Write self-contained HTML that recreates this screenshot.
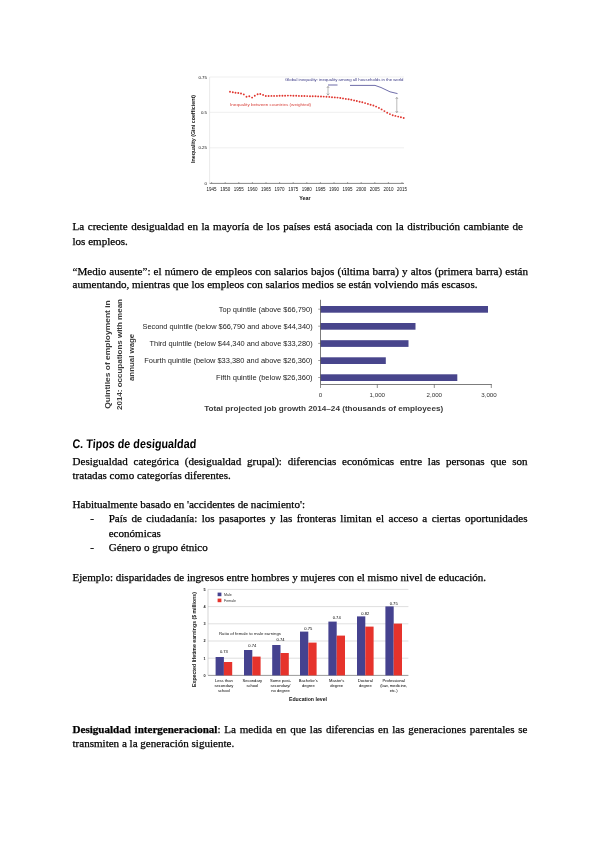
<!DOCTYPE html>
<html lang="es"><head><meta charset="utf-8"><title>Tipos de desigualdad</title>
<style>
html,body{margin:0;padding:0;background:#fff;}
body{width:600px;height:848px;position:relative;overflow:hidden;font-family:"Liberation Serif",serif;color:#000;}
.l{position:absolute;left:72.5px;width:455px;font-size:11.05px;line-height:14px;height:14px;white-space:nowrap;text-align:justify;text-align-last:justify;-webkit-text-stroke:0.25px #000;}
.l.n{text-align:left;text-align-last:left;}
.l.i{left:108.7px;width:418.8px;}
.d{-webkit-text-stroke:0.25px #000;position:absolute;left:90.3px;font-size:11.05px;line-height:14px;}
.h{position:absolute;left:72px;top:435.5px;font-family:"Liberation Sans",sans-serif;font-weight:bold;font-size:12.5px;line-height:16px;white-space:nowrap;transform:scaleX(0.862) skewX(-4deg);transform-origin:0 100%;}
svg{position:absolute;left:0;top:0;}
svg text{font-family:"Liberation Sans",sans-serif;}
</style></head><body>
<div class="l" style="top:219.27px;width:450.5px">La creciente desigualdad en la mayoría de los países está asociada con la distribución cambiante de</div>
<div class="l n" style="top:233.57px">los empleos.</div>
<div class="l" style="top:263.77px;width:455.5px">“Medio ausente”: el número de empleos con salarios bajos (última barra) y altos (primera barra) están</div>
<div class="l n" style="top:277.27px">aumentando, mientras que los empleos con salarios medios se están volviendo más escasos.</div>
<div class="h">C. Tipos de desigualdad</div>
<div class="l" style="top:454.27px">Desigualdad categórica (desigualdad grupal): diferencias económicas entre las personas que son</div>
<div class="l n" style="top:468.07px">tratadas como categorías diferentes.</div>
<div class="l n" style="top:496.77px">Habitualmente basado en 'accidentes de nacimiento':</div>
<div class="d" style="top:511.27px">-</div>
<div class="l i" style="top:511.27px">País de ciudadanía: los pasaportes y las fronteras limitan el acceso a ciertas oportunidades</div>
<div class="l i n" style="top:525.57px">económicas</div>
<div class="d" style="top:540.47px">-</div>
<div class="l i n" style="top:540.47px">Género o grupo étnico</div>
<div class="l n" style="top:570.27px">Ejemplo: disparidades de ingresos entre hombres y mujeres con el mismo nivel de educación.</div>
<div class="l" style="top:721.77px"><b>Desigualdad intergeneracional</b>: La medida en que las diferencias en las generaciones parentales se</div>
<div class="l n" style="top:736.27px">transmiten a la generación siguiente.</div>
<svg width="600" height="848" viewBox="0 0 600 848">
<line x1="209.6" x2="404" y1="77" y2="77" stroke="#e4e4e4" stroke-width="0.6"/>
<line x1="209.6" x2="404" y1="112.3" y2="112.3" stroke="#e4e4e4" stroke-width="0.6"/>
<line x1="209.6" x2="404" y1="147.8" y2="147.8" stroke="#e4e4e4" stroke-width="0.6"/>
<line x1="209.6" x2="209.6" y1="77" y2="183.4" stroke="#dcdcdc" stroke-width="0.6"/>
<line x1="209.6" x2="404" y1="183.4" y2="183.4" stroke="#555" stroke-width="0.7"/>
<line x1="211.6" x2="211.6" y1="182" y2="183.4" stroke="#555" stroke-width="0.5"/>
<text x="211.6" y="191" font-size="4.5" text-anchor="middle" fill="#111">1945</text>
<line x1="225.2" x2="225.2" y1="182" y2="183.4" stroke="#555" stroke-width="0.5"/>
<text x="225.2" y="191" font-size="4.5" text-anchor="middle" fill="#111">1950</text>
<line x1="238.8" x2="238.8" y1="182" y2="183.4" stroke="#555" stroke-width="0.5"/>
<text x="238.8" y="191" font-size="4.5" text-anchor="middle" fill="#111">1955</text>
<line x1="252.4" x2="252.4" y1="182" y2="183.4" stroke="#555" stroke-width="0.5"/>
<text x="252.4" y="191" font-size="4.5" text-anchor="middle" fill="#111">1960</text>
<line x1="266.0" x2="266.0" y1="182" y2="183.4" stroke="#555" stroke-width="0.5"/>
<text x="266.0" y="191" font-size="4.5" text-anchor="middle" fill="#111">1965</text>
<line x1="279.6" x2="279.6" y1="182" y2="183.4" stroke="#555" stroke-width="0.5"/>
<text x="279.6" y="191" font-size="4.5" text-anchor="middle" fill="#111">1970</text>
<line x1="293.2" x2="293.2" y1="182" y2="183.4" stroke="#555" stroke-width="0.5"/>
<text x="293.2" y="191" font-size="4.5" text-anchor="middle" fill="#111">1975</text>
<line x1="306.8" x2="306.8" y1="182" y2="183.4" stroke="#555" stroke-width="0.5"/>
<text x="306.8" y="191" font-size="4.5" text-anchor="middle" fill="#111">1980</text>
<line x1="320.4" x2="320.4" y1="182" y2="183.4" stroke="#555" stroke-width="0.5"/>
<text x="320.4" y="191" font-size="4.5" text-anchor="middle" fill="#111">1985</text>
<line x1="334.0" x2="334.0" y1="182" y2="183.4" stroke="#555" stroke-width="0.5"/>
<text x="334.0" y="191" font-size="4.5" text-anchor="middle" fill="#111">1990</text>
<line x1="347.6" x2="347.6" y1="182" y2="183.4" stroke="#555" stroke-width="0.5"/>
<text x="347.6" y="191" font-size="4.5" text-anchor="middle" fill="#111">1995</text>
<line x1="361.2" x2="361.2" y1="182" y2="183.4" stroke="#555" stroke-width="0.5"/>
<text x="361.2" y="191" font-size="4.5" text-anchor="middle" fill="#111">2000</text>
<line x1="374.8" x2="374.8" y1="182" y2="183.4" stroke="#555" stroke-width="0.5"/>
<text x="374.8" y="191" font-size="4.5" text-anchor="middle" fill="#111">2005</text>
<line x1="388.4" x2="388.4" y1="182" y2="183.4" stroke="#555" stroke-width="0.5"/>
<text x="388.4" y="191" font-size="4.5" text-anchor="middle" fill="#111">2010</text>
<line x1="402.0" x2="402.0" y1="182" y2="183.4" stroke="#555" stroke-width="0.5"/>
<text x="402.0" y="191" font-size="4.5" text-anchor="middle" fill="#111">2015</text>
<text x="207" y="78.6" font-size="4.4" text-anchor="end" fill="#111">0.75</text>
<text x="207" y="113.9" font-size="4.4" text-anchor="end" fill="#111">0.5</text>
<text x="207" y="149.4" font-size="4.4" text-anchor="end" fill="#111">0.25</text>
<text x="207" y="185.0" font-size="4.4" text-anchor="end" fill="#111">0</text>
<text transform="translate(194.6,129) rotate(-90)" font-size="5.2" font-weight="bold" text-anchor="middle" fill="#111" textLength="68" lengthAdjust="spacingAndGlyphs">Inequality (Gini coefficient)</text>
<text x="305" y="200.2" font-size="5.4" font-weight="bold" text-anchor="middle" fill="#111">Year</text>
<circle cx="230.0" cy="91.7" r="0.95" fill="#e0362f"/>
<circle cx="232.8" cy="92.3" r="0.95" fill="#e0362f"/>
<circle cx="235.5" cy="92.7" r="0.95" fill="#e0362f"/>
<circle cx="238.3" cy="93.0" r="0.95" fill="#e0362f"/>
<circle cx="241.0" cy="93.5" r="0.95" fill="#e0362f"/>
<circle cx="243.8" cy="94.4" r="0.95" fill="#e0362f"/>
<circle cx="246.5" cy="96.7" r="0.95" fill="#e0362f"/>
<circle cx="249.3" cy="96.3" r="0.95" fill="#e0362f"/>
<circle cx="252.1" cy="97.6" r="0.95" fill="#e0362f"/>
<circle cx="254.8" cy="95.7" r="0.95" fill="#e0362f"/>
<circle cx="257.6" cy="94.3" r="0.95" fill="#e0362f"/>
<circle cx="260.3" cy="94.0" r="0.95" fill="#e0362f"/>
<circle cx="263.1" cy="94.9" r="0.95" fill="#e0362f"/>
<circle cx="265.8" cy="96.0" r="0.95" fill="#e0362f"/>
<circle cx="268.6" cy="96.0" r="0.95" fill="#e0362f"/>
<circle cx="271.4" cy="95.9" r="0.95" fill="#e0362f"/>
<circle cx="274.1" cy="95.9" r="0.95" fill="#e0362f"/>
<circle cx="276.9" cy="95.9" r="0.95" fill="#e0362f"/>
<circle cx="279.6" cy="95.8" r="0.95" fill="#e0362f"/>
<circle cx="282.4" cy="95.8" r="0.95" fill="#e0362f"/>
<circle cx="285.1" cy="95.7" r="0.95" fill="#e0362f"/>
<circle cx="287.9" cy="95.6" r="0.95" fill="#e0362f"/>
<circle cx="290.7" cy="95.6" r="0.95" fill="#e0362f"/>
<circle cx="293.4" cy="95.7" r="0.95" fill="#e0362f"/>
<circle cx="296.2" cy="95.8" r="0.95" fill="#e0362f"/>
<circle cx="298.9" cy="95.9" r="0.95" fill="#e0362f"/>
<circle cx="301.7" cy="96.0" r="0.95" fill="#e0362f"/>
<circle cx="304.4" cy="96.0" r="0.95" fill="#e0362f"/>
<circle cx="307.2" cy="96.1" r="0.95" fill="#e0362f"/>
<circle cx="310.0" cy="96.2" r="0.95" fill="#e0362f"/>
<circle cx="312.7" cy="96.3" r="0.95" fill="#e0362f"/>
<circle cx="315.5" cy="96.3" r="0.95" fill="#e0362f"/>
<circle cx="318.2" cy="96.4" r="0.95" fill="#e0362f"/>
<circle cx="321.0" cy="96.5" r="0.95" fill="#e0362f"/>
<circle cx="323.7" cy="96.6" r="0.95" fill="#e0362f"/>
<circle cx="326.5" cy="96.7" r="0.95" fill="#e0362f"/>
<circle cx="329.3" cy="96.9" r="0.95" fill="#e0362f"/>
<circle cx="332.0" cy="97.2" r="0.95" fill="#e0362f"/>
<circle cx="334.8" cy="97.4" r="0.95" fill="#e0362f"/>
<circle cx="337.5" cy="97.6" r="0.95" fill="#e0362f"/>
<circle cx="340.3" cy="98.0" r="0.95" fill="#e0362f"/>
<circle cx="343.0" cy="98.4" r="0.95" fill="#e0362f"/>
<circle cx="345.8" cy="98.9" r="0.95" fill="#e0362f"/>
<circle cx="348.6" cy="99.3" r="0.95" fill="#e0362f"/>
<circle cx="351.3" cy="99.8" r="0.95" fill="#e0362f"/>
<circle cx="354.1" cy="100.4" r="0.95" fill="#e0362f"/>
<circle cx="356.8" cy="101.0" r="0.95" fill="#e0362f"/>
<circle cx="359.6" cy="101.7" r="0.95" fill="#e0362f"/>
<circle cx="362.3" cy="102.3" r="0.95" fill="#e0362f"/>
<circle cx="365.1" cy="103.1" r="0.95" fill="#e0362f"/>
<circle cx="367.9" cy="103.9" r="0.95" fill="#e0362f"/>
<circle cx="370.6" cy="104.7" r="0.95" fill="#e0362f"/>
<circle cx="373.4" cy="105.5" r="0.95" fill="#e0362f"/>
<circle cx="376.1" cy="106.6" r="0.95" fill="#e0362f"/>
<circle cx="378.9" cy="107.9" r="0.95" fill="#e0362f"/>
<circle cx="381.6" cy="109.4" r="0.95" fill="#e0362f"/>
<circle cx="384.4" cy="111.1" r="0.95" fill="#e0362f"/>
<circle cx="387.2" cy="112.8" r="0.95" fill="#e0362f"/>
<circle cx="389.9" cy="114.1" r="0.95" fill="#e0362f"/>
<circle cx="392.7" cy="115.2" r="0.95" fill="#e0362f"/>
<circle cx="395.4" cy="115.9" r="0.95" fill="#e0362f"/>
<circle cx="398.2" cy="116.6" r="0.95" fill="#e0362f"/>
<circle cx="400.9" cy="117.3" r="0.95" fill="#e0362f"/>
<circle cx="403.7" cy="118.0" r="0.95" fill="#e0362f"/>
<text x="230" y="105.7" font-size="3.7" fill="#d8433c" textLength="81" lengthAdjust="spacingAndGlyphs">Inequality between countries (weighted)</text>
<text x="285" y="80.7" font-size="3.7" fill="#3b3a86" textLength="118.5" lengthAdjust="spacingAndGlyphs">Global inequality: inequality among all households in the world</text>
<path d="M328 85H337.5M350 85.4H375L381 87.5L390 91.8L397.5 93.6" fill="none" stroke="#4a4893" stroke-width="0.8"/>
<path d="M328 86.5V95M326.8 88L328 86.3L329.2 88M326.8 93.5L328 95.2L329.2 93.5M396.8 97.5V112.5M395.6 99L396.8 97.3L398 99M395.6 111L396.8 112.7L398 111" fill="none" stroke="#777" stroke-width="0.5"/>
<rect x="320.5" y="306.0" width="167.5" height="6.7" fill="#48458c"/>
<line x1="318.2" x2="320.5" y1="309.2" y2="309.2" stroke="#444" stroke-width="0.5"/>
<text x="218.8" y="311.6" font-size="6.6" fill="#222" textLength="93.8" lengthAdjust="spacingAndGlyphs">Top quintile (above $66,790)</text>
<rect x="320.5" y="323.0" width="95.0" height="6.7" fill="#48458c"/>
<line x1="318.2" x2="320.5" y1="326.2" y2="326.2" stroke="#444" stroke-width="0.5"/>
<text x="142.5" y="328.6" font-size="6.6" fill="#222" textLength="170.1" lengthAdjust="spacingAndGlyphs">Second quintile (below $66,790 and above $44,340)</text>
<rect x="320.5" y="340.2" width="88.0" height="6.7" fill="#48458c"/>
<line x1="318.2" x2="320.5" y1="343.4" y2="343.4" stroke="#444" stroke-width="0.5"/>
<text x="149.5" y="345.8" font-size="6.6" fill="#222" textLength="163.1" lengthAdjust="spacingAndGlyphs">Third quintile (below $44,340 and above $33,280)</text>
<rect x="320.5" y="357.3" width="65.3" height="6.7" fill="#48458c"/>
<line x1="318.2" x2="320.5" y1="360.5" y2="360.5" stroke="#444" stroke-width="0.5"/>
<text x="144.3" y="362.9" font-size="6.6" fill="#222" textLength="168.3" lengthAdjust="spacingAndGlyphs">Fourth quintile (below $33,380 and above $26,360)</text>
<rect x="320.5" y="374.3" width="136.8" height="6.7" fill="#48458c"/>
<line x1="318.2" x2="320.5" y1="377.5" y2="377.5" stroke="#444" stroke-width="0.5"/>
<text x="216.0" y="379.9" font-size="6.6" fill="#222" textLength="96.6" lengthAdjust="spacingAndGlyphs">Fifth quintile (below $26,360)</text>
<path d="M320.5 299.8V384.5H491.8" fill="none" stroke="#444" stroke-width="0.7"/>
<line x1="320.5" x2="320.5" y1="384.5" y2="388" stroke="#444" stroke-width="0.6"/>
<text x="320.5" y="396.5" font-size="6.2" text-anchor="middle" fill="#333">0</text>
<line x1="377.3" x2="377.3" y1="384.5" y2="388" stroke="#444" stroke-width="0.6"/>
<text x="377.3" y="396.5" font-size="6.2" text-anchor="middle" fill="#333">1,000</text>
<line x1="434.3" x2="434.3" y1="384.5" y2="388" stroke="#444" stroke-width="0.6"/>
<text x="434.3" y="396.5" font-size="6.2" text-anchor="middle" fill="#333">2,000</text>
<line x1="491.3" x2="491.3" y1="384.5" y2="388" stroke="#444" stroke-width="0.6"/>
<text x="489.0" y="396.5" font-size="6.2" text-anchor="middle" fill="#333">3,000</text>
<text x="323.7" y="411" font-size="7.9" font-weight="bold" text-anchor="middle" fill="#3a3a3a" textLength="239" lengthAdjust="spacingAndGlyphs">Total projected job growth 2014–24 (thousands of employees)</text>
<text transform="translate(110.2,354.5) rotate(-90)" font-size="7.9" font-weight="bold" text-anchor="middle" fill="#3a3a3a" textLength="108.5" lengthAdjust="spacingAndGlyphs">Quintiles of employment in</text>
<text transform="translate(122.4,354.5) rotate(-90)" font-size="7.9" font-weight="bold" text-anchor="middle" fill="#3a3a3a" textLength="111" lengthAdjust="spacingAndGlyphs">2014: occupations with mean</text>
<text transform="translate(133.6,357.4) rotate(-90)" font-size="7.9" font-weight="bold" text-anchor="middle" fill="#3a3a3a" textLength="47.3" lengthAdjust="spacingAndGlyphs">annual wage</text>
<line x1="208" x2="408.4" y1="589.4" y2="589.4" stroke="#c9c9c9" stroke-width="0.6"/>
<text x="205.5" y="590.8" font-size="3.8" font-weight="bold" text-anchor="end" fill="#222">5</text>
<line x1="208" x2="408.4" y1="606.6" y2="606.6" stroke="#c9c9c9" stroke-width="0.6"/>
<text x="205.5" y="608.0" font-size="3.8" font-weight="bold" text-anchor="end" fill="#222">4</text>
<line x1="208" x2="408.4" y1="623.8" y2="623.8" stroke="#c9c9c9" stroke-width="0.6"/>
<text x="205.5" y="625.2" font-size="3.8" font-weight="bold" text-anchor="end" fill="#222">3</text>
<line x1="208" x2="408.4" y1="641.0" y2="641.0" stroke="#c9c9c9" stroke-width="0.6"/>
<text x="205.5" y="642.4" font-size="3.8" font-weight="bold" text-anchor="end" fill="#222">2</text>
<line x1="208" x2="408.4" y1="658.2" y2="658.2" stroke="#c9c9c9" stroke-width="0.6"/>
<text x="205.5" y="659.6" font-size="3.8" font-weight="bold" text-anchor="end" fill="#222">1</text>
<line x1="208" x2="408.4" y1="675.4" y2="675.4" stroke="#555" stroke-width="0.6"/>
<text x="205.5" y="676.8" font-size="3.8" font-weight="bold" text-anchor="end" fill="#222">0</text>
<line x1="208" x2="208" y1="589.4" y2="675.4" stroke="#bbb" stroke-width="0.6"/>
<rect x="215.6" y="657.0" width="8.3" height="18.4" fill="#45428f"/>
<rect x="223.9" y="662.0" width="8.3" height="13.4" fill="#e6332c"/>
<text x="223.9" y="653.1" font-size="4.1" text-anchor="middle" fill="#000">0.73</text>
<text x="223.9" y="681.9" font-size="4.1" text-anchor="middle" fill="#000">Less than</text>
<text x="223.9" y="687.0" font-size="4.1" text-anchor="middle" fill="#000">secondary</text>
<text x="223.9" y="692.1" font-size="4.1" text-anchor="middle" fill="#000">school</text>
<rect x="244.0" y="650.0" width="8.3" height="25.4" fill="#45428f"/>
<rect x="252.3" y="656.6" width="8.3" height="18.8" fill="#e6332c"/>
<text x="252.3" y="647.1" font-size="4.1" text-anchor="middle" fill="#000">0.74</text>
<text x="252.3" y="681.9" font-size="4.1" text-anchor="middle" fill="#000">Secondary</text>
<text x="252.3" y="687.0" font-size="4.1" text-anchor="middle" fill="#000">school</text>
<rect x="272.2" y="645.0" width="8.3" height="30.4" fill="#45428f"/>
<rect x="280.5" y="653.0" width="8.3" height="22.4" fill="#e6332c"/>
<text x="280.5" y="640.5" font-size="4.1" text-anchor="middle" fill="#000">0.74</text>
<text x="280.5" y="681.9" font-size="4.1" text-anchor="middle" fill="#000">Some post-</text>
<text x="280.5" y="687.0" font-size="4.1" text-anchor="middle" fill="#000">secondary/</text>
<text x="280.5" y="692.1" font-size="4.1" text-anchor="middle" fill="#000">no degree</text>
<rect x="300.0" y="631.6" width="8.3" height="43.8" fill="#45428f"/>
<rect x="308.3" y="642.6" width="8.3" height="32.8" fill="#e6332c"/>
<text x="308.3" y="629.5" font-size="4.1" text-anchor="middle" fill="#000">0.75</text>
<text x="308.3" y="681.9" font-size="4.1" text-anchor="middle" fill="#000">Bachelor's</text>
<text x="308.3" y="687.0" font-size="4.1" text-anchor="middle" fill="#000">degree</text>
<rect x="328.4" y="621.6" width="8.3" height="53.8" fill="#45428f"/>
<rect x="336.7" y="635.6" width="8.3" height="39.8" fill="#e6332c"/>
<text x="336.7" y="618.5" font-size="4.1" text-anchor="middle" fill="#000">0.74</text>
<text x="336.7" y="681.9" font-size="4.1" text-anchor="middle" fill="#000">Master's</text>
<text x="336.7" y="687.0" font-size="4.1" text-anchor="middle" fill="#000">degree</text>
<rect x="357.0" y="616.4" width="8.3" height="59.0" fill="#45428f"/>
<rect x="365.3" y="626.6" width="8.3" height="48.8" fill="#e6332c"/>
<text x="365.3" y="614.5" font-size="4.1" text-anchor="middle" fill="#000">0.82</text>
<text x="365.3" y="681.9" font-size="4.1" text-anchor="middle" fill="#000">Doctoral</text>
<text x="365.3" y="687.0" font-size="4.1" text-anchor="middle" fill="#000">degree</text>
<rect x="385.4" y="606.4" width="8.3" height="69.0" fill="#45428f"/>
<rect x="393.7" y="623.6" width="8.3" height="51.8" fill="#e6332c"/>
<text x="393.7" y="604.5" font-size="4.1" text-anchor="middle" fill="#000">0.75</text>
<text x="393.7" y="681.9" font-size="4.1" text-anchor="middle" fill="#000">Professional</text>
<text x="393.7" y="687.0" font-size="4.1" text-anchor="middle" fill="#000">(law, medicine,</text>
<text x="393.7" y="692.1" font-size="4.1" text-anchor="middle" fill="#000">etc.)</text>
<rect x="217.6" y="592.6" width="3.8" height="3.6" fill="#45428f"/><rect x="217.6" y="598.6" width="3.8" height="3.6" fill="#e6332c"/>
<text x="224" y="595.8" font-size="3.6" fill="#333">Male</text><text x="224" y="601.8" font-size="3.6" fill="#333">Female</text>
<text x="219" y="634.7" font-size="3.8" fill="#222" textLength="62" lengthAdjust="spacingAndGlyphs">Ratio of female to male earnings</text>
<text transform="translate(195.8,639.5) rotate(-90)" font-size="4.7" font-weight="bold" text-anchor="middle" fill="#111" textLength="95" lengthAdjust="spacingAndGlyphs">Expected lifetime earnings ($ millions)</text>
<text x="308" y="700.6" font-size="4.6" font-weight="bold" text-anchor="middle" fill="#111" textLength="38" lengthAdjust="spacingAndGlyphs">Education level</text>
</svg>
</body></html>
